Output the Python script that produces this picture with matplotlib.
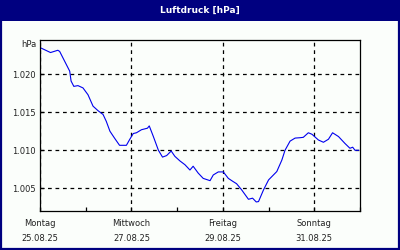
import matplotlib.pyplot as plt
from matplotlib.patches import Rectangle

# Zeit in Tagen ab Montag 25.08.25 00:00, Luftdruck in hPa
days = [0.02, 0.23, 0.39, 0.43, 0.54, 0.65, 0.68, 0.74, 0.83, 0.94,
        1.05, 1.16, 1.27, 1.38, 1.45, 1.53, 1.63, 1.74, 1.89, 1.96,
        2.04, 2.11, 2.22, 2.35, 2.39, 2.48, 2.59, 2.68, 2.77, 2.87,
        2.95, 3.06, 3.17, 3.28, 3.35, 3.46, 3.57, 3.72, 3.79, 3.90,
        4.01, 4.12, 4.22, 4.30, 4.41, 4.56, 4.65, 4.73, 4.78, 4.89,
        5.00, 5.18, 5.29, 5.36, 5.47, 5.58, 5.69, 5.76, 5.87, 5.95,
        6.09, 6.20, 6.31, 6.40, 6.53, 6.67, 6.78, 6.84, 6.89, 6.97]
pressure = [1023.45, 1022.85, 1023.15, 1023.0, 1021.7, 1020.4, 1019.1, 1018.4, 1018.5, 1018.2,
            1017.3, 1015.8, 1015.2, 1014.7, 1013.8, 1012.5, 1011.6, 1010.65, 1010.65, 1011.4,
            1012.2, 1012.3, 1012.7, 1012.9, 1013.2, 1011.8, 1010.0, 1009.1, 1009.3, 1009.9,
            1009.2, 1008.6, 1008.1, 1007.4, 1007.9, 1007.0, 1006.3, 1006.0, 1006.75, 1007.15,
            1007.15, 1006.3, 1005.9, 1005.6, 1004.8, 1003.55, 1003.7, 1003.2, 1003.25, 1004.8,
            1006.1, 1007.2, 1008.7, 1010.0, 1011.2, 1011.6, 1011.65, 1011.7, 1012.3, 1012.1,
            1011.35, 1011.05, 1011.45, 1012.3, 1011.8, 1010.9, 1010.26, 1010.4, 1010.0, 1010.0]

y_ticks = [1005, 1010, 1015, 1020]
y_labels = ['1.005', '1.010', '1.015', '1.020']
x_major = [0, 2, 4, 6]
x_labels = ['Montag\n25.08.25', 'Mittwoch\n27.08.25', 'Freitag\n29.08.25', 'Sonntag\n31.08.25']
x_minor = [1, 3, 5, 7]

navy = '#000080'
txt = '#222222'

fig = plt.figure(figsize=(4, 2.5), dpi=100, facecolor='#fbfefb')

# title bar and frame
fig.patches.append(Rectangle((0, 1 - 20.7 / 250), 1, 20.7 / 250, transform=fig.transFigure,
                             facecolor=navy, edgecolor='none', zorder=0))
fig.patches.append(Rectangle((0.002, 0.004), 0.996, 0.994, transform=fig.transFigure,
                             facecolor='none', edgecolor=navy, linewidth=1.6, zorder=1))
fig.text(0.5, 1 - 10.5 / 250, 'Luftdruck [hPa]', color='white', fontsize=6.5,
         fontweight='bold', ha='center', va='center')

ax = fig.add_axes([40 / 400, 1 - 210.7 / 250, 320 / 400, (210.7 - 40) / 250])
ax.set_facecolor('#fbfefb')
ax.plot(days, pressure, color='#0000ee', linewidth=0.8)

ax.set_xlim(0, 7)
ax.set_ylim(1002.05, 1024.5)
ax.set_yticks(y_ticks)
ax.set_yticklabels(y_labels)
ax.set_xticks(x_major)
ax.set_xticklabels(x_labels, linespacing=1.9)
ax.set_xticks(x_minor, minor=True)

ax.grid(True, which='major', color='black', linestyle=(0, (3, 3)), linewidth=0.9)
ax.tick_params(axis='both', which='both', direction='in', length=3, width=0.9,
               labelsize=6, colors='black', labelcolor=txt)
ax.tick_params(axis='x', pad=6)
ax.tick_params(axis='y', pad=3)
for s in ax.spines.values():
    s.set_linewidth(0.9)

fig.text(37 / 400, 1 - 45 / 250, 'hPa', color=txt, fontsize=6, ha='right', va='center')

fig.savefig('out.png', dpi=100, facecolor=fig.get_facecolor())
